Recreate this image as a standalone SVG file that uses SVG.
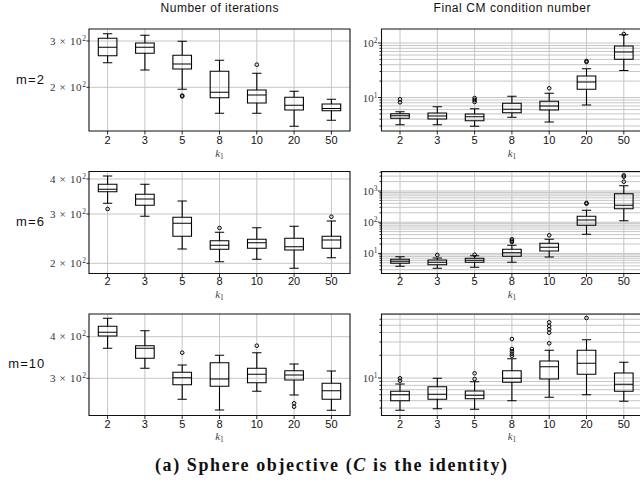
<svg xmlns="http://www.w3.org/2000/svg" width="640" height="485" viewBox="0 0 640 485">
<style>
text{font-family:"Liberation Sans","DejaVu Sans",sans-serif;fill:#111}
.t{font-size:12px;text-anchor:middle}
.m{font-size:13px}
.xt{font-size:11px;text-anchor:middle}
.yl{font-family:"Liberation Serif","DejaVu Serif",serif;font-size:11px;text-anchor:end;fill:#333}
.sup{font-size:7.5px}
.kl{font-family:"Liberation Serif","DejaVu Serif",serif;font-size:11px;font-style:italic;text-anchor:middle;fill:#444}
.sub{font-size:7.5px;font-style:normal}
.cap{font-family:"Liberation Serif","DejaVu Serif",serif;font-size:18px;font-weight:bold;text-anchor:middle}
.g{stroke:#c6c6c6;stroke-width:1;fill:none}
.f{stroke:#111;stroke-width:1.1;fill:none}
.tk{stroke:#111;stroke-width:0.9;fill:none}
.b{stroke:#000;stroke-width:1.1;fill:none}
.o{stroke:#000;stroke-width:1;fill:none}
</style>

<text class="t" x="219.5" y="12.3" textLength="118" lengthAdjust="spacing">Number of iterations</text>
<text class="t" x="512" y="12.3" textLength="157" lengthAdjust="spacing">Final CM condition number</text>

<text class="m" x="16" y="84.3" textLength="28" lengthAdjust="spacing">m=2</text>
<text class="m" x="16" y="226" textLength="28" lengthAdjust="spacing">m=6</text>
<text class="m" x="8.3" y="368.3" textLength="36" lengthAdjust="spacing">m=10</text>

<!-- Row 1 left -->
<g id="iter-m2">
<path class="g" d="M107.6 29V131M144.9 29V131M182.2 29V131M219.5 29V131M256.8 29V131M294.1 29V131M331.4 29V131M89 41H350M89 87.3H350"/>
<path class="tk" d="M89 41h-2.5M89 87.3h-2.5M107.6 131v3.5M144.9 131v3.5M182.2 131v3.5M219.5 131v3.5M256.8 131v3.5M294.1 131v3.5M331.4 131v3.5"/>
<text class="yl" x="86" y="44.7" textLength="36" lengthAdjust="spacing">3 × 10<tspan class="sup" dy="-4">2</tspan></text>
<text class="yl" x="86" y="91" textLength="36" lengthAdjust="spacing">2 × 10<tspan class="sup" dy="-4">2</tspan></text>
<g class="b">
<path d="M107.6 33.7V38.3M107.6 55.7V62.7m-4.65 0h9.3M102.95 33.7h9.3M98.3 38.3h18.6V55.7h-18.6zM98.3 47.3h18.6"/>
<path d="M144.9 35.3V43M144.9 53.3V70m-4.65 0h9.3M140.25 35.3h9.3M135.6 43h18.6V53.3h-18.6zM135.6 47.3h18.6"/>
<path d="M182.2 41.3V55.3M182.2 69V89.3m-4.65 0h9.3M177.55 41.3h9.3M172.9 55.3h18.6V69h-18.6zM172.9 64h18.6"/>
<path d="M219.5 60.3V71.3M219.5 97.7V113.3m-4.65 0h9.3M214.85 60.3h9.3M210.2 71.3h18.6V97.7h-18.6zM210.2 92.3h18.6"/>
<path d="M256.8 73.3V90M256.8 103V113.3m-4.65 0h9.3M252.15 73.3h9.3M247.5 90h18.6V103h-18.6zM247.5 95h18.6"/>
<path d="M294.1 91.3V97.3M294.1 110V126.3m-4.65 0h9.3M289.45 91.3h9.3M284.8 97.3h18.6V110h-18.6zM284.8 105.3h18.6"/>
<path d="M331.4 99.3V104M331.4 110.7V120.3m-4.65 0h9.3M326.75 99.3h9.3M322.1 104h18.6V110.7h-18.6zM322.1 108.5h18.6"/>
</g>
<g class="o">
<circle cx="182.2" cy="95.6" r="1.8"/><circle cx="182.2" cy="96.4" r="1.8"/>
<circle cx="256.8" cy="64.7" r="1.8"/>
</g>
<path class="f" d="M89 29H350V131H89Z"/>
</g>

<!-- Row 1 right -->
<g id="cond-m2">
<path class="g" d="M400 29V131M437.3 29V131M474.6 29V131M511.9 29V131M549.2 29V131M586.5 29V131M623.8 29V131M381.5 126H643M381.5 119.19H643M381.5 113.9H643M381.5 109.59H643M381.5 105.95H643M381.5 102.78H643M381.5 99.99H643M381.5 97.5H643M381.5 81.09H643M381.5 71.5H643M381.5 64.69H643M381.5 59.41H643M381.5 55.09H643M381.5 51.44H643M381.5 48.28H643M381.5 45.49H643M381.5 43H643"/>
<path class="tk" d="M381.5 97.5h-3.5M381.5 43h-3.5M381.5 126h-2M381.5 119.19h-2M381.5 113.9h-2M381.5 109.59h-2M381.5 105.95h-2M381.5 102.78h-2M381.5 99.99h-2M381.5 81.09h-2M381.5 71.5h-2M381.5 64.69h-2M381.5 59.41h-2M381.5 55.09h-2M381.5 51.44h-2M381.5 48.28h-2M381.5 45.49h-2M400 131v3.5M437.3 131v3.5M474.6 131v3.5M511.9 131v3.5M549.2 131v3.5M586.5 131v3.5M623.8 131v3.5"/>
<text class="yl" x="377.5" y="47">10<tspan class="sup" dy="-4">2</tspan></text>
<text class="yl" x="377.5" y="101.5">10<tspan class="sup" dy="-4">1</tspan></text>
<g class="b">
<path d="M400 111.7V113.7M400 118.3V124.7m-4.65 0h9.3M395.35 111.7h9.3M390.7 113.7h18.6V118.3h-18.6zM390.7 115.7h18.6"/>
<path d="M437.3 106.7V113M437.3 119V124.7m-4.65 0h9.3M432.65 106.7h9.3M428 113h18.6V119h-18.6zM428 116h18.6"/>
<path d="M474.6 108.7V114M474.6 120.7V126.3m-4.65 0h9.3M469.95 108.7h9.3M465.3 114h18.6V120.7h-18.6zM465.3 116.7h18.6"/>
<path d="M511.9 96.3V103.3M511.9 112.7V117.3m-4.65 0h9.3M507.25 96.3h9.3M502.6 103.3h18.6V112.7h-18.6zM502.6 109.3h18.6"/>
<path d="M549.2 93.3V101.3M549.2 110V122m-4.65 0h9.3M544.55 93.3h9.3M539.9 101.3h18.6V110h-18.6zM539.9 106h18.6"/>
<path d="M586.5 68.7V76M586.5 89.3V105m-4.65 0h9.3M581.85 68.7h9.3M577.2 76h18.6V89.3h-18.6zM577.2 82h18.6"/>
<path d="M623.8 34.7V46M623.8 59.3V70.5m-4.65 0h9.3M619.15 34.7h9.3M614.5 46h18.6V59.3h-18.6zM614.5 52h18.6"/>
</g>
<g class="o">
<circle cx="400" cy="99.3" r="1.8"/><circle cx="400" cy="102.3" r="1.8"/>
<circle cx="474.6" cy="98" r="1.8"/><circle cx="474.6" cy="100" r="1.8"/><circle cx="474.6" cy="102" r="1.8"/>
<circle cx="549.2" cy="88.3" r="1.8"/>
<circle cx="586.5" cy="61" r="1.8"/><circle cx="586.5" cy="62" r="1.8"/>
<circle cx="623.8" cy="34" r="1.8"/>
</g>
<path class="f" d="M643 29H381.5V131H643"/>
</g>

<g id="xlabels-row1">
<text class="xt" x="107.6" y="144">2</text><text class="xt" x="144.9" y="144">3</text><text class="xt" x="182.2" y="144">5</text><text class="xt" x="219.5" y="144">8</text><text class="xt" x="256.8" y="144">10</text><text class="xt" x="294.1" y="144">20</text><text class="xt" x="331.4" y="144">50</text>
<text class="xt" x="400" y="144">2</text><text class="xt" x="437.3" y="144">3</text><text class="xt" x="474.6" y="144">5</text><text class="xt" x="511.9" y="144">8</text><text class="xt" x="549.2" y="144">10</text><text class="xt" x="586.5" y="144">20</text><text class="xt" x="623.8" y="144">50</text>
<text class="kl" x="219.5" y="156.5">k<tspan class="sub" dy="2">1</tspan></text>
<text class="kl" x="512" y="156.5">k<tspan class="sub" dy="2">1</tspan></text>
</g>

<!-- Row 2 left -->
<g id="iter-m6">
<path class="g" d="M107.6 171.5V273.5M144.9 171.5V273.5M182.2 171.5V273.5M219.5 171.5V273.5M256.8 171.5V273.5M294.1 171.5V273.5M331.4 171.5V273.5M89 179H350M89 214H350M89 263.3H350"/>
<path class="tk" d="M89 179h-2.5M89 214h-2.5M89 263.3h-2.5M107.6 273.5v3.5M144.9 273.5v3.5M182.2 273.5v3.5M219.5 273.5v3.5M256.8 273.5v3.5M294.1 273.5v3.5M331.4 273.5v3.5"/>
<text class="yl" x="86" y="182.7" textLength="36" lengthAdjust="spacing">4 × 10<tspan class="sup" dy="-4">2</tspan></text>
<text class="yl" x="86" y="217.7" textLength="36" lengthAdjust="spacing">3 × 10<tspan class="sup" dy="-4">2</tspan></text>
<text class="yl" x="86" y="267" textLength="36" lengthAdjust="spacing">2 × 10<tspan class="sup" dy="-4">2</tspan></text>
<g class="b">
<path d="M107.6 176V184.3M107.6 191.7V203.3m-4.65 0h9.3M102.95 176h9.3M98.3 184.3h18.6V191.7h-18.6zM98.3 189.3h18.6"/>
<path d="M144.9 184.3V194.3M144.9 205.3V216.3m-4.65 0h9.3M140.25 184.3h9.3M135.6 194.3h18.6V205.3h-18.6zM135.6 199h18.6"/>
<path d="M182.2 201V217.3M182.2 236.3V249m-4.65 0h9.3M177.55 201h9.3M172.9 217.3h18.6V236.3h-18.6zM172.9 223.3h18.6"/>
<path d="M219.5 232.3V240.7M219.5 249.3V261.7m-4.65 0h9.3M214.85 232.3h9.3M210.2 240.7h18.6V249.3h-18.6zM210.2 245.3h18.6"/>
<path d="M256.8 227.7V239.3M256.8 248.3V259.3m-4.65 0h9.3M252.15 227.7h9.3M247.5 239.3h18.6V248.3h-18.6zM247.5 242.7h18.6"/>
<path d="M294.1 226.3V238.3M294.1 250V268.3m-4.65 0h9.3M289.45 226.3h9.3M284.8 238.3h18.6V250h-18.6zM284.8 246.7h18.6"/>
<path d="M331.4 221V236.3M331.4 248.3V257.7m-4.65 0h9.3M326.75 221h9.3M322.1 236.3h18.6V248.3h-18.6zM322.1 240h18.6"/>
</g>
<g class="o">
<circle cx="107.6" cy="209" r="1.8"/>
<circle cx="219.5" cy="228" r="1.8"/>
<circle cx="331.4" cy="216.7" r="1.8"/>
</g>
<path class="f" d="M89 171.5H350V273.5H89Z"/>
</g>

<!-- Row 2 right -->
<g id="cond-m6">
<path class="g" d="M400 171.5V273.5M437.3 171.5V273.5M474.6 171.5V273.5M511.9 171.5V273.5M549.2 171.5V273.5M586.5 171.5V273.5M623.8 171.5V273.5M381.5 269.71H643M381.5 265.82H643M381.5 262.79H643M381.5 260.32H643M381.5 258.24H643M381.5 256.42H643M381.5 254.83H643M381.5 253.4H643M381.5 244.01H643M381.5 238.51H643M381.5 234.62H643M381.5 231.59H643M381.5 229.12H643M381.5 227.03H643M381.5 225.22H643M381.5 223.63H643M381.5 222.2H643M381.5 212.81H643M381.5 207.31H643M381.5 203.42H643M381.5 200.39H643M381.5 197.92H643M381.5 195.83H643M381.5 194.02H643M381.5 192.43H643M381.5 191H643M381.5 181.61H643M381.5 176.11H643M381.5 172.22H643"/>
<path class="tk" d="M381.5 253.4h-3.5M381.5 222.2h-3.5M381.5 191h-3.5M381.5 269.71h-2M381.5 265.82h-2M381.5 262.79h-2M381.5 260.32h-2M381.5 258.24h-2M381.5 256.42h-2M381.5 254.83h-2M381.5 244.01h-2M381.5 238.51h-2M381.5 234.62h-2M381.5 231.59h-2M381.5 229.12h-2M381.5 227.03h-2M381.5 225.22h-2M381.5 223.63h-2M381.5 212.81h-2M381.5 207.31h-2M381.5 203.42h-2M381.5 200.39h-2M381.5 197.92h-2M381.5 195.83h-2M381.5 194.02h-2M381.5 192.43h-2M381.5 181.61h-2M381.5 176.11h-2M381.5 172.22h-2M400 273.5v3.5M437.3 273.5v3.5M474.6 273.5v3.5M511.9 273.5v3.5M549.2 273.5v3.5M586.5 273.5v3.5M623.8 273.5v3.5"/>
<text class="yl" x="377.5" y="195">10<tspan class="sup" dy="-4">3</tspan></text>
<text class="yl" x="377.5" y="226.2">10<tspan class="sup" dy="-4">2</tspan></text>
<text class="yl" x="377.5" y="257.4">10<tspan class="sup" dy="-4">1</tspan></text>
<g class="b">
<path d="M400 256.7V259.3M400 263.3V266.3m-4.65 0h9.3M395.35 256.7h9.3M390.7 259.3h18.6V263.3h-18.6zM390.7 261.3h18.6"/>
<path d="M437.3 258V260M437.3 264.7V268.3m-4.65 0h9.3M432.65 258h9.3M428 260h18.6V264.7h-18.6zM428 262.3h18.6"/>
<path d="M474.6 255.7V258.3M474.6 262.3V267.3m-4.65 0h9.3M469.95 255.7h9.3M465.3 258.3h18.6V262.3h-18.6zM465.3 260.3h18.6"/>
<path d="M511.9 245.3V249.3M511.9 256.3V262.3m-4.65 0h9.3M507.25 245.3h9.3M502.6 249.3h18.6V256.3h-18.6zM502.6 252.7h18.6"/>
<path d="M549.2 239.3V243.3M549.2 251V257m-4.65 0h9.3M544.55 239.3h9.3M539.9 243.3h18.6V251h-18.6zM539.9 247.3h18.6"/>
<path d="M586.5 210.3V216.3M586.5 225.3V234.3m-4.65 0h9.3M581.85 210.3h9.3M577.2 216.3h18.6V225.3h-18.6zM577.2 220h18.6"/>
<path d="M623.8 185.7V193.7M623.8 208.7V220.7m-4.65 0h9.3M619.15 185.7h9.3M614.5 193.7h18.6V208.7h-18.6zM614.5 205.3h18.6"/>
</g>
<g class="o">
<circle cx="437.3" cy="255" r="1.8"/>
<circle cx="474.6" cy="254.7" r="1.8"/>
<circle cx="511.9" cy="239.3" r="1.8"/><circle cx="511.9" cy="240.7" r="1.8"/><circle cx="511.9" cy="242" r="1.8"/>
<circle cx="549.2" cy="235.3" r="1.8"/>
<circle cx="586.5" cy="202.9" r="1.8"/><circle cx="586.5" cy="203.7" r="1.8"/>
<circle cx="623.8" cy="175.3" r="1.8"/><circle cx="623.8" cy="176.7" r="1.8"/><circle cx="623.8" cy="181.7" r="1.8"/>
</g>
<path class="f" d="M643 171.5H381.5V273.5H643"/>
</g>

<g id="xlabels-row2">
<text class="xt" x="107.6" y="285">2</text><text class="xt" x="144.9" y="285">3</text><text class="xt" x="182.2" y="285">5</text><text class="xt" x="219.5" y="285">8</text><text class="xt" x="256.8" y="285">10</text><text class="xt" x="294.1" y="285">20</text><text class="xt" x="331.4" y="285">50</text>
<text class="xt" x="400" y="285">2</text><text class="xt" x="437.3" y="285">3</text><text class="xt" x="474.6" y="285">5</text><text class="xt" x="511.9" y="285">8</text><text class="xt" x="549.2" y="285">10</text><text class="xt" x="586.5" y="285">20</text><text class="xt" x="623.8" y="285">50</text>
<text class="kl" x="219.5" y="298">k<tspan class="sub" dy="2">1</tspan></text>
<text class="kl" x="512" y="298">k<tspan class="sub" dy="2">1</tspan></text>
</g>

<!-- Row 3 left -->
<g id="iter-m10">
<path class="g" d="M107.6 314V415.5M144.9 314V415.5M182.2 314V415.5M219.5 314V415.5M256.8 314V415.5M294.1 314V415.5M331.4 314V415.5M89 336.7H350M89 378.3H350"/>
<path class="tk" d="M89 336.7h-2.5M89 378.3h-2.5M107.6 415.5v3.5M144.9 415.5v3.5M182.2 415.5v3.5M219.5 415.5v3.5M256.8 415.5v3.5M294.1 415.5v3.5M331.4 415.5v3.5"/>
<text class="yl" x="86" y="340.4" textLength="36" lengthAdjust="spacing">4 × 10<tspan class="sup" dy="-4">2</tspan></text>
<text class="yl" x="86" y="382" textLength="36" lengthAdjust="spacing">3 × 10<tspan class="sup" dy="-4">2</tspan></text>
<g class="b">
<path d="M107.6 318.3V326.3M107.6 336V348.3m-4.65 0h9.3M102.95 318.3h9.3M98.3 326.3h18.6V336h-18.6zM98.3 332.3h18.6"/>
<path d="M144.9 330.7V345.7M144.9 358.3V368.3m-4.65 0h9.3M140.25 330.7h9.3M135.6 345.7h18.6V358.3h-18.6zM135.6 348.3h18.6"/>
<path d="M182.2 365V372.3M182.2 384.7V399.3m-4.65 0h9.3M177.55 365h9.3M172.9 372.3h18.6V384.7h-18.6zM172.9 377.7h18.6"/>
<path d="M219.5 355.3V362.7M219.5 386.3V410m-4.65 0h9.3M214.85 355.3h9.3M210.2 362.7h18.6V386.3h-18.6zM210.2 379h18.6"/>
<path d="M256.8 352.7V368.3M256.8 382.7V391.3m-4.65 0h9.3M252.15 352.7h9.3M247.5 368.3h18.6V382.7h-18.6zM247.5 374.3h18.6"/>
<path d="M294.1 364V370.7M294.1 380V395m-4.65 0h9.3M289.45 364h9.3M284.8 370.7h18.6V380h-18.6zM284.8 375h18.6"/>
<path d="M331.4 371V383.3M331.4 399.3V410.3m-4.65 0h9.3M326.75 371h9.3M322.1 383.3h18.6V399.3h-18.6zM322.1 390.7h18.6"/>
</g>
<g class="o">
<circle cx="182.2" cy="352.7" r="1.8"/>
<circle cx="256.8" cy="345.7" r="1.8"/>
<circle cx="294.1" cy="403.3" r="1.8"/><circle cx="294.1" cy="406.7" r="1.8"/>
</g>
<path class="f" d="M89 314H350V415.5H89Z"/>
</g>

<!-- Row 3 right -->
<g id="cond-m10">
<path class="g" d="M400 314V415.5M437.3 314V415.5M474.6 314V415.5M511.9 314V415.5M549.2 314V415.5M586.5 314V415.5M623.8 314V415.5M381.5 408.04H643M381.5 400.73H643M381.5 394.75H643M381.5 389.7H643M381.5 385.32H643M381.5 381.46H643M381.5 378H643M381.5 355.27H643M381.5 341.98H643M381.5 332.54H643M381.5 325.23H643M381.5 319.25H643M381.5 314.6H643"/>
<path class="tk" d="M381.5 378h-3.5M381.5 408.04h-2M381.5 400.73h-2M381.5 394.75h-2M381.5 389.7h-2M381.5 385.32h-2M381.5 381.46h-2M381.5 355.27h-2M381.5 341.98h-2M381.5 332.54h-2M381.5 325.23h-2M381.5 319.25h-2M400 415.5v3.5M437.3 415.5v3.5M474.6 415.5v3.5M511.9 415.5v3.5M549.2 415.5v3.5M586.5 415.5v3.5M623.8 415.5v3.5"/>
<text class="yl" x="377.5" y="382">10<tspan class="sup" dy="-4">1</tspan></text>
<g class="b">
<path d="M400 384V391.3M400 400.7V410.3m-4.65 0h9.3M395.35 384h9.3M390.7 391.3h18.6V400.7h-18.6zM390.7 394.7h18.6"/>
<path d="M437.3 378.3V386.7M437.3 399.3V408.7m-4.65 0h9.3M432.65 378.3h9.3M428 386.7h18.6V399.3h-18.6zM428 394.3h18.6"/>
<path d="M474.6 381.7V391M474.6 398.7V409.3m-4.65 0h9.3M469.95 381.7h9.3M465.3 391h18.6V398.7h-18.6zM465.3 395.3h18.6"/>
<path d="M511.9 358.7V370.7M511.9 382.3V400.7m-4.65 0h9.3M507.25 358.7h9.3M502.6 370.7h18.6V382.3h-18.6zM502.6 378.3h18.6"/>
<path d="M549.2 350.3V361M549.2 379V397.3m-4.65 0h9.3M544.55 350.3h9.3M539.9 361h18.6V379h-18.6zM539.9 366.7h18.6"/>
<path d="M586.5 339.7V350.3M586.5 374.3V394.7m-4.65 0h9.3M581.85 339.7h9.3M577.2 350.3h18.6V374.3h-18.6zM577.2 363.3h18.6"/>
<path d="M623.8 362.3V373M623.8 391.3V401.3m-4.65 0h9.3M619.15 362.3h9.3M614.5 373h18.6V391.3h-18.6zM614.5 384.3h18.6"/>
</g>
<g class="o">
<circle cx="400" cy="378.3" r="1.8"/><circle cx="400" cy="380.7" r="1.8"/>
<circle cx="474.6" cy="373.3" r="1.8"/><circle cx="474.6" cy="379" r="1.8"/>
<circle cx="511.9" cy="339" r="1.8"/><circle cx="511.9" cy="349" r="1.8"/><circle cx="511.9" cy="351.3" r="1.8"/><circle cx="511.9" cy="353.7" r="1.8"/><circle cx="511.9" cy="355.7" r="1.8"/>
<circle cx="549.2" cy="322.3" r="1.8"/><circle cx="549.2" cy="326" r="1.8"/><circle cx="549.2" cy="329.3" r="1.8"/><circle cx="549.2" cy="332.7" r="1.8"/><circle cx="549.2" cy="343.3" r="1.8"/>
<circle cx="586.5" cy="318" r="1.8"/>
</g>
<path class="f" d="M643 314H381.5V415.5H643"/>
</g>

<g id="xlabels-row3">
<text class="xt" x="107.6" y="427.7">2</text><text class="xt" x="144.9" y="427.7">3</text><text class="xt" x="182.2" y="427.7">5</text><text class="xt" x="219.5" y="427.7">8</text><text class="xt" x="256.8" y="427.7">10</text><text class="xt" x="294.1" y="427.7">20</text><text class="xt" x="331.4" y="427.7">50</text>
<text class="xt" x="400" y="427.7">2</text><text class="xt" x="437.3" y="427.7">3</text><text class="xt" x="474.6" y="427.7">5</text><text class="xt" x="511.9" y="427.7">8</text><text class="xt" x="549.2" y="427.7">10</text><text class="xt" x="586.5" y="427.7">20</text><text class="xt" x="623.8" y="427.7">50</text>
<text class="kl" x="219.5" y="440">k<tspan class="sub" dy="2">1</tspan></text>
<text class="kl" x="512" y="440">k<tspan class="sub" dy="2">1</tspan></text>
</g>

<text class="cap" x="331" y="470.5" textLength="352" lengthAdjust="spacing">(a) Sphere objective (<tspan font-style="italic">C</tspan> is the identity)</text>
</svg>
